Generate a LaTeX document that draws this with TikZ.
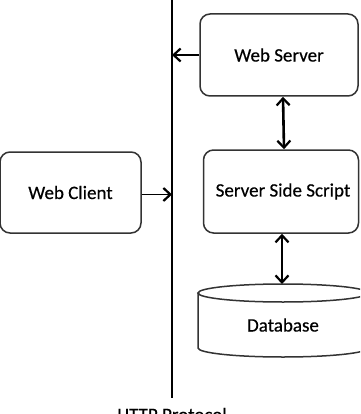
\documentclass[tikz,border=0pt]{standalone}
\usepackage{fontspec}
\setmainfont{Carlito}
\newfontface\lblface{Carlito}[FakeBold=0.4]
\usetikzlibrary{arrows.meta}
\begin{document}
\begin{tikzpicture}[x=1pt,y=-1pt,
  box/.style={draw=black!80, line width=1.5pt, rounded corners=10pt, fill=white, inner sep=0pt},
  lbl/.style={font=\lblface\fontsize{19}{23}\selectfont, text=black},
  tip/.tip={Straight Barb[length=7pt,width=13pt,line width=2.2pt]},
  arr/.style={line width=1.9pt, -tip},
  darr/.style={line width=2.6pt, tip-tip},
  dbline/.style={draw=black!80, line width=1.5pt}]
\useasboundingbox (0,0) rectangle (360,414);
\clip (0,0) rectangle (360,414);
% protocol line
\coordinate (ltop) at (172,0);
\coordinate (lbot) at (172,398);
\draw[line width=1.6pt] (ltop) -- (lbot);
% boxes
\node[box, lbl, minimum width=158pt, minimum height=82pt] (ws) at (279,55) {Web Server};
\node[box, lbl, minimum width=141pt, minimum height=81pt] (wc) at (70.5,192.5) {Web Client};
\node[box, lbl, minimum width=155pt, minimum height=83pt] (sss) at (281,191.5) {\hspace*{4pt}Server Side Script};
% database
\draw[dbline, fill=white] (198,293) -- (198,348) arc[start angle=180, end angle=0, x radius=85, y radius=9] -- (368,293);
\draw[dbline] (283,293) ellipse[x radius=85, y radius=9];
\coordinate (dbtop) at (282,284);
\node[lbl] (db) at (283,325) {Database};
% caption
\node[lbl, anchor=base] (http) at (172,421) {HTTP Protocol};
% connectors
\draw[arr] (ws.west) -- (ws.west -| ltop);
\draw[arr] ([yshift=-2pt]wc.east) -- ([yshift=-2pt]wc.east -| ltop);
\draw[darr] ([xshift=4pt]ws.south) -- ([xshift=3pt]sss.north);
\draw[darr] ([xshift=1pt]sss.south) -- (dbtop);
\end{tikzpicture}
\end{document}
